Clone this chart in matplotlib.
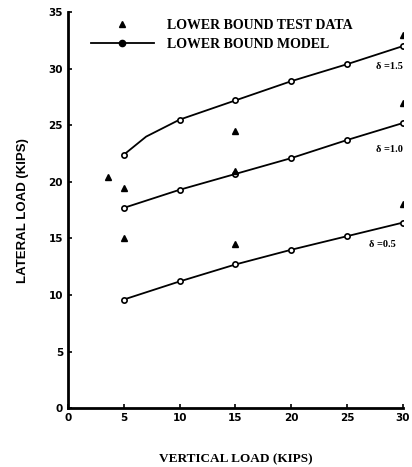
import matplotlib
matplotlib.use("Agg")
import matplotlib.pyplot as plt
from matplotlib.lines import Line2D

# ------------------------------ Data ------------------------------
X_15 = [5, 7, 10, 15, 20, 25, 30]
Y_15 = [22.4, 24.0, 25.5, 27.2, 28.9, 30.4, 32.0]
X_MODEL = [5, 10, 15, 20, 25, 30]
Y_10 = [17.7, 19.3, 20.7, 22.1, 23.7, 25.2]
Y_05 = [9.6, 11.2, 12.7, 14.0, 15.2, 16.4]

TEST_X = [3.6, 5, 5, 15, 15, 15, 30, 30, 30]
TEST_Y = [20.4, 19.5, 15.0, 24.5, 21.0, 14.5, 33.0, 27.0, 18.0]

LABELS = [("\u03b4 =1.5", 27.6, 30.0), ("\u03b4 =1.0", 27.6, 22.6), ("\u03b4 =0.5", 27.0, 14.2)]
TICKS_X = [0, 5, 10, 15, 20, 25, 30]
TICKS_Y = [0, 5, 10, 15, 20, 25, 30, 35]

# ------------------------------ Plot ------------------------------
fig = plt.figure(figsize=(4.12, 4.67), dpi=100)
ax = fig.add_axes([0.165, 0.126, 0.813, 0.848])

line_kw = dict(color="black", lw=1.3, marker="o", ms=3.8, mfc="white", mec="black", mew=1.2)
ax.plot(X_15, Y_15, markevery=[0, 2, 3, 4, 5, 6], **line_kw)
ax.plot(X_MODEL, Y_10, **line_kw)
ax.plot(X_MODEL, Y_05, **line_kw)
ax.plot(TEST_X, TEST_Y, ls="none", marker="^", ms=4.2, color="black")

for txt, tx, ty in LABELS:
    ax.text(tx, ty, txt, fontsize=7.5, family="Liberation Serif", fontweight="bold")

ax.set_xlim(0, 30)
ax.set_ylim(0, 35)
ax.set_xticks(TICKS_X)
ax.set_yticks(TICKS_Y)
ax.tick_params(direction="in", length=3, width=1.2, labelsize=7.5)
for lab in ax.get_xticklabels() + ax.get_yticklabels():
    lab.set_fontweight("bold")
ax.spines["top"].set_visible(False)
ax.spines["right"].set_visible(False)
ax.spines["left"].set_linewidth(2)
ax.spines["bottom"].set_linewidth(2)

ax.set_xlabel("VERTICAL LOAD (KIPS)", family="Liberation Serif", fontsize=9.5,
              fontweight="bold", labelpad=22)
ax.set_ylabel("LATERAL LOAD (KIPS)", family="Liberation Sans", fontsize=9.5,
              fontweight="bold", labelpad=14)

handles = [
    Line2D([], [], ls="none", marker="^", ms=4.2, color="black"),
    Line2D([], [], color="black", lw=1.3, marker="o", ms=4.5, mfc="black"),
]
ax.legend(handles, ["LOWER BOUND TEST DATA", "LOWER BOUND MODEL"], loc="upper left",
          bbox_to_anchor=(0.03, 1.015), frameon=False, handlelength=4.6,
          handletextpad=0.9,
          prop=dict(family="Liberation Serif", weight="bold", size=10),
          labelspacing=0.45)

fig.savefig("out.png", dpi=100)
